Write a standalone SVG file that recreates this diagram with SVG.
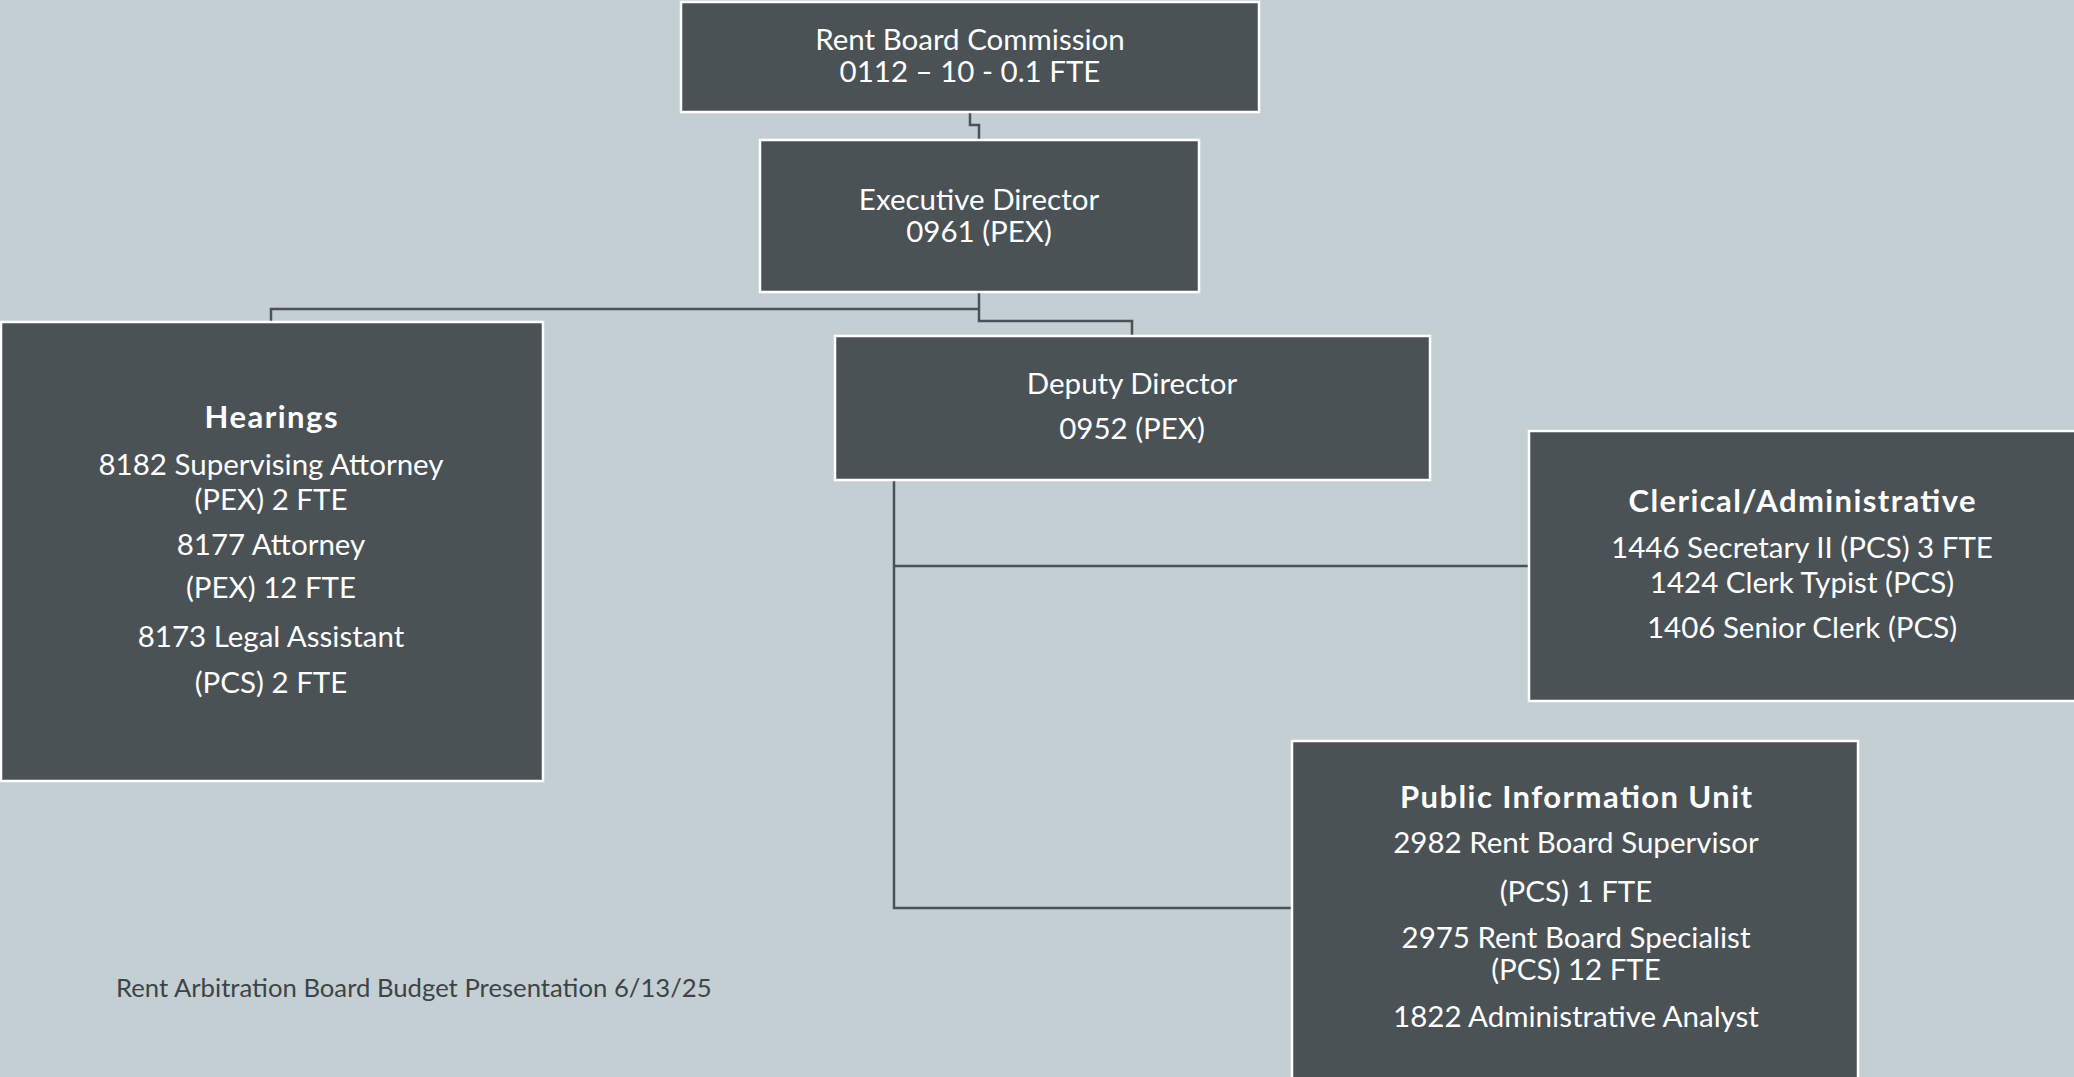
<svg xmlns="http://www.w3.org/2000/svg" width="2074" height="1077" viewBox="0 0 2074 1077">
<style>
.box{fill:#4a5256;stroke:#ffffff;stroke-width:2.5}
.t{font-family:Lato,"Open Sans","Liberation Sans",sans-serif;font-size:29.5px;fill:#ffffff;text-anchor:middle}
.b{font-weight:bold;font-size:31px}
.conn{fill:none;stroke:#4a5256;stroke-width:2.5}
.foot{font-family:Lato,"Open Sans","Liberation Sans",sans-serif;font-size:25.7px;fill:#3d4447}
</style>
<rect x="0" y="0" width="2074" height="1077" fill="#c4cfd4"/>
<g id="connectors">
<path class="conn" d="M970 112 V125 H979 V140"/>
<path class="conn" d="M979 292 V321 H1132 V336"/>
<path class="conn" d="M979 309 H271 V322"/>
<path class="conn" d="M894 481 V908 H1292"/>
<path class="conn" d="M894 566 H1529"/>
</g>
<g id="rent-board-commission">
<rect class="box" x="681" y="2" width="578" height="110"/>
<text class="t" x="970" y="50">Rent Board Commission</text>
<text class="t" x="970" y="82">0112 – 10 - 0.1 FTE</text>
</g>
<g id="executive-director">
<rect class="box" x="760" y="140" width="439" height="152"/>
<text class="t" x="979" y="210">Executive Director</text>
<text class="t" x="979" y="242">0961 (PEX)</text>
</g>
<g id="hearings">
<rect class="box" x="1" y="322" width="542" height="459"/>
<text class="t b" x="271" y="428" textLength="133" lengthAdjust="spacing">Hearings</text>
<text class="t" x="271" y="475">8182 Supervising Attorney</text>
<text class="t" x="271" y="510">(PEX) 2 FTE</text>
<text class="t" x="271" y="555">8177 Attorney</text>
<text class="t" x="271" y="598">(PEX) 12 FTE</text>
<text class="t" x="271" y="647">8173 Legal Assistant</text>
<text class="t" x="271" y="693">(PCS) 2 FTE</text>
</g>
<g id="deputy-director">
<rect class="box" x="835" y="336" width="595" height="144"/>
<text class="t" x="1132" y="394">Deputy Director</text>
<text class="t" x="1132" y="439">0952 (PEX)</text>
</g>
<g id="clerical-administrative">
<rect class="box" x="1529" y="431" width="560" height="270"/>
<text class="t b" x="1802" y="512" textLength="347" lengthAdjust="spacing">Clerical/Administrative</text>
<text class="t" x="1802" y="558">1446 Secretary II (PCS) 3 FTE</text>
<text class="t" x="1802" y="593">1424 Clerk Typist (PCS)</text>
<text class="t" x="1802" y="638">1406 Senior Clerk (PCS)</text>
</g>
<g id="public-information-unit">
<rect class="box" x="1292" y="741" width="566" height="350"/>
<text class="t b" x="1576" y="808" textLength="352" lengthAdjust="spacing">Public Information Unit</text>
<text class="t" x="1576" y="853">2982 Rent Board Supervisor</text>
<text class="t" x="1576" y="902">(PCS) 1 FTE</text>
<text class="t" x="1576" y="948">2975 Rent Board Specialist</text>
<text class="t" x="1576" y="980">(PCS) 12 FTE</text>
<text class="t" x="1576" y="1027">1822 Administrative Analyst</text>
</g>
<text class="foot" x="116" y="997">Rent Arbitration Board Budget Presentation 6/13/25</text>
</svg>
